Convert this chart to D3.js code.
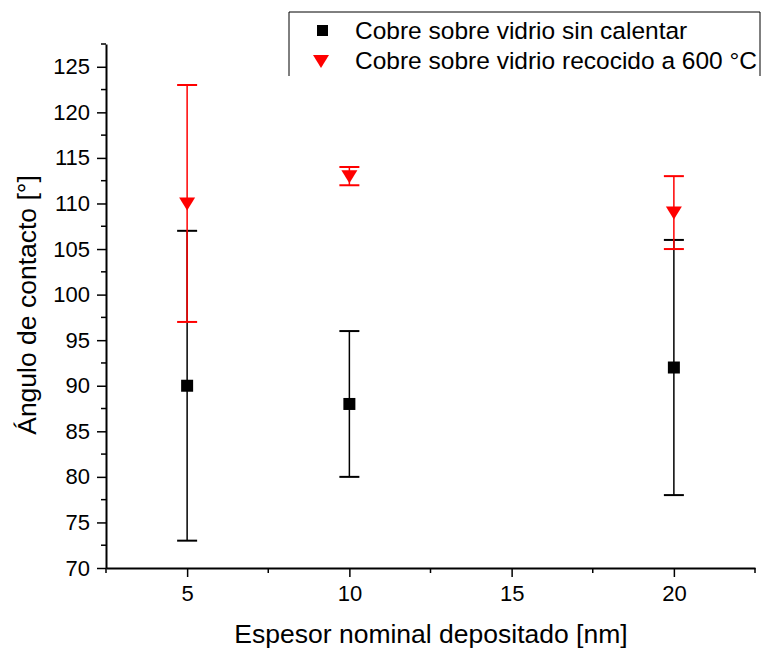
<!DOCTYPE html>
<html>
<head>
<meta charset="utf-8">
<script src="https://cdn.jsdelivr.net/npm/d3@7"></script>
<style>
  html, body { margin: 0; padding: 0; background: #fff; }
  svg text { font-family: "Liberation Sans", Arial, sans-serif; }
</style>
</head>
<body>
<svg id="chart" width="762" height="653"></svg>
<script>
// Nominal thickness (nm)
const thickness = [5, 10, 20];

// Contact angle on unheated glass
const unheatedMean = [90, 88, 92];
const unheatedErr  = [17, 8, 14];

// Contact angle on glass annealed at 600 °C
const annealedMean = [110, 113, 109];
const annealedErr  = [13, 1, 4];

const seriesNames = ["Cobre sobre vidrio sin calentar", "Cobre sobre vidrio recocido a 600 °C"];
const xTicks = [5, 10, 15, 20];
const yTicks = [70, 75, 80, 85, 90, 95, 100, 105, 110, 115, 120, 125];

const svg = d3.select("#chart");
const m = { left: 106, right: 755, top: 44, bottom: 568 };

const x = d3.scaleLinear().domain([2.5, 22.5]).range([m.left, m.right]);
const y = d3.scaleLinear().domain([70, 127.5]).range([m.bottom, m.top]);

// Axes: major ticks labelled, minor ticks halfway between
const xMinor = d3.range(2.5, 22.6, 5);
const yMinor = d3.range(72.5, 127.6, 5);

const xAxisG = svg.append("g").attr("transform", `translate(0,${m.bottom})`);
xAxisG.call(d3.axisBottom(x).tickValues(xTicks).tickSize(9).tickSizeOuter(0).tickPadding(8));
xAxisG.append("g").selectAll("line").data(xMinor).join("line")
  .attr("x1", d => x(d)).attr("x2", d => x(d)).attr("y1", 0).attr("y2", 5)
  .attr("stroke", "#000").attr("stroke-width", 1.5);

const yAxisG = svg.append("g").attr("transform", `translate(${m.left},0)`);
yAxisG.call(d3.axisLeft(y).tickValues(yTicks).tickSize(9).tickSizeOuter(0).tickPadding(7));
yAxisG.append("g").selectAll("line").data(yMinor).join("line")
  .attr("y1", d => y(d)).attr("y2", d => y(d)).attr("x1", 0).attr("x2", -5)
  .attr("stroke", "#000").attr("stroke-width", 1.5);

[xAxisG, yAxisG].forEach(g => {
  g.select(".domain").attr("stroke", "#000").attr("stroke-width", 2);
  g.selectAll(".tick line").attr("stroke", "#000").attr("stroke-width", 1.5);
  g.selectAll(".tick text").attr("font-size", 22).attr("fill", "#000")
    .attr("font-family", "'Liberation Sans', Arial, sans-serif");
});

// Axis titles
svg.append("text")
  .attr("x", 431).attr("y", 643)
  .attr("text-anchor", "middle").attr("font-size", 26.5).attr("fill", "#000")
  .text("Espesor nominal depositado [nm]");

svg.append("text")
  .attr("transform", "translate(36,305) rotate(-90)")
  .attr("text-anchor", "middle").attr("font-size", 26.5).attr("fill", "#000")
  .text("Ángulo de contacto [°]");

// Error bars + markers
function errorBars(means, errs, color, capHalf) {
  const g = svg.append("g");
  const rows = thickness.map((t, i) => ({ t, v: means[i], e: errs[i] }));
  g.selectAll("line.stem").data(rows).join("line")
    .attr("x1", d => x(d.t)).attr("x2", d => x(d.t))
    .attr("y1", d => y(d.v - d.e)).attr("y2", d => y(d.v + d.e))
    .attr("stroke", color).attr("stroke-width", 1.5);
  ["lo", "hi"].forEach(k => {
    g.selectAll("line.cap" + k).data(rows).join("line")
      .attr("x1", d => x(d.t) - capHalf).attr("x2", d => x(d.t) + capHalf)
      .attr("y1", d => y(k === "lo" ? d.v - d.e : d.v + d.e))
      .attr("y2", d => y(k === "lo" ? d.v - d.e : d.v + d.e))
      .attr("stroke", color).attr("stroke-width", 2);
  });
  return { g, rows };
}

const tri = "M-8,-6 L8,-6 L0,7 Z";

const b = errorBars(unheatedMean, unheatedErr, "#000", 10);
b.g.selectAll("rect").data(b.rows).join("rect")
  .attr("x", d => x(d.t) - 6).attr("y", d => y(d.v) - 6)
  .attr("width", 12).attr("height", 12).attr("fill", "#000");

const r = errorBars(annealedMean, annealedErr, "#ff0000", 10);
r.g.selectAll("path").data(r.rows).join("path")
  .attr("transform", d => `translate(${x(d.t)},${y(d.v)})`)
  .attr("d", tri).attr("fill", "#ff0000");

// Legend
const lg = svg.append("g");
lg.append("path").attr("d", "M289,76 L289,12 L760,12 L760,76")
  .attr("fill", "none").attr("stroke", "#000").attr("stroke-width", 1);
lg.append("rect").attr("x", 317).attr("y", 25).attr("width", 11).attr("height", 11).attr("fill", "#000");
lg.append("path").attr("transform", "translate(321,61)").attr("d", tri).attr("fill", "#ff0000");
lg.selectAll("text").data(seriesNames).join("text")
  .attr("x", 355).attr("y", (d, i) => 39 + i * 30)
  .attr("font-size", 24.5).attr("fill", "#000").text(d => d);
</script>
</body>
</html>
